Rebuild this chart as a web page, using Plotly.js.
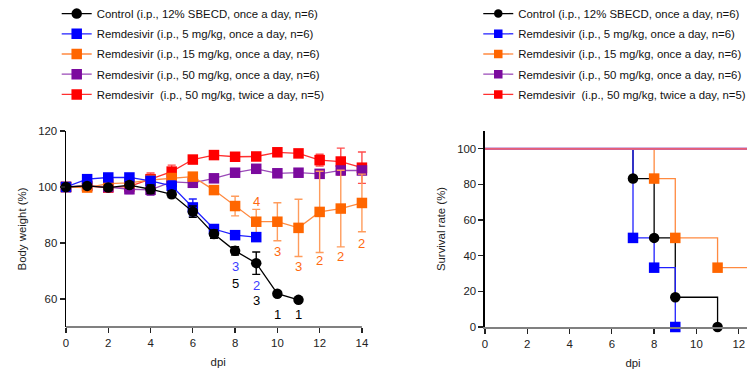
<!DOCTYPE html>
<html><head><meta charset="utf-8">
<script src="https://cdn.plot.ly/plotly-3.0.1.min.js"></script>
<style>html,body{margin:0;padding:0;overflow:hidden;background:#fff}#chart{width:790px;height:371px}</style>
</head><body><div id="chart"></div>
<script>
// ---- data ----
const groupNames = [
  "Control (i.p., 12% SBECD, once a day, n=6)",
  "Remdesivir (i.p., 5 mg/kg, once a day, n=6)",
  "Remdesivir (i.p., 15 mg/kg, once a day, n=6)",
  "Remdesivir (i.p., 50 mg/kg, once a day, n=6)",
  "Remdesivir\u00a0 (i.p., 50 mg/kg, twice a day, n=5)"
];
const days = [0,1,2,3,4,5,6,7,8,9,10,11,12,13,14];
const ctrlWeight  = [100,100.4,99.8,100.7,99.2,97.4,91.2,83.2,77.2,72.8,61.9,59.7];
const ctrlErr     = [0,0.6,0.8,1.2,1.5,1.2,2.0,1.5,1.5,4.0,0,0];
const rdv5Weight  = [100,102.8,103.4,103.4,102.2,100.4,92.7,85.0,82.8,82.1];
const rdv5Err     = [0,0.6,0.6,0.6,0.8,1.8,3.0,1.0,0.8,0.8];
const rdv15Weight = [100,99.8,101.2,101.5,102.5,103.2,103.7,98.9,93.2,87.6,87.6,85.4,91.1,92.3,94.3];
const rdv15Err    = [0,0.6,0.6,0.6,0.6,0.8,0.8,1.2,3.5,4.4,6.8,10.2,14.5,13.7,10.3];
const rdv50Weight = [100,100.5,100.0,99.2,99.0,101.8,101.5,103.1,105.1,106.5,104.9,105.1,104.7,105.9,105.9];
const rdv50Err    = [0,0.5,0.5,1.5,2.0,0.8,0.8,0.8,0.8,0.8,0.8,0.8,1.0,1.0,1.0];
const rdv50bWeight= [100,100.3,99.8,100.2,102.8,105.5,109.8,111.4,110.8,110.9,112.4,112.0,109.6,109.1,106.9];
const rdv50bErr   = [0,0.5,0.5,0.5,2.2,2.3,0.8,0.8,0.8,0.8,0.8,0.8,2.1,4.8,5.6];

// survival (Kaplan-Meier steps)
const survCtrlX = [0,7,8,9,11],     survCtrlY = [100,83.3,50,16.7,0];
const surv5X    = [0,7,8,9],        surv5Y    = [100,50,33.3,0];
const surv15X   = [0,8,9,11,14],    surv15Y   = [100,83.3,50,33.3,33.3];
const surv50X   = [0,14],           surv50Y   = [100,100];
const surv50bX  = [0,14],           surv50bY  = [100,100];

// surviving n labels
const labelDays   = [8,9,8,9,10,11,9,10,11,12,13,14];
const labelVals   = [71.7,64.8,65.6,59.5,54.5,54.5,95,76.9,71.7,73.7,75.2,80];
const labelTexts  = ["3","2","5","3","1","1","4","3","3","2","2","2"];
const labelGroups = [1,1,0,0,0,0,2,2,2,2,2,2];

// ---- styles ----
const markerColors = ["#000000","#0000ff","#ff6600","#7b0a9e","#ff0000"];
const lineColors   = ["#000000","#2020ff","#ff8a40","#9a4ab8","#ff3030"];
const errColors    = ["#000000","#2020ff","#ff9c5c","#9a4ab8","#ff4d4d"];
const survLineColors = ["#000000","#2020ff","#ff8a40","#a66cc4","#ff5a5a"];
const labelColors  = ["#000000","#3c3cff","#ff6a10"];
const symbols      = ["circle","square","square","square","square"];

const weights = [ctrlWeight, rdv5Weight, rdv15Weight, rdv50Weight, rdv50bWeight];
const errs    = [ctrlErr, rdv5Err, rdv15Err, rdv50Err, rdv50bErr];
const survX   = [survCtrlX, surv5X, surv15X, surv50X, surv50bX];
const survY   = [survCtrlY, surv5Y, surv15Y, surv50Y, surv50bY];

const drawOrder = [4,3,2,1,0];
const traces = [];
const font = "Liberation Sans, Arial, sans-serif";

drawOrder.forEach(g => {
  traces.push({
    x: days.slice(0, weights[g].length), y: weights[g],
    type: "scatter", mode: "lines+markers", name: groupNames[g],
    xaxis: "x", yaxis: "y", legend: "legend", legendrank: g+1, legendgroup: "w" + g,
    cliponaxis: false,
    line: {color: lineColors[g], width: 1.3},
    marker: {color: markerColors[g], symbol: symbols[g], size: 10.5, line: {width: 0}},
    error_y: {type: "data", array: errs[g], visible: true, color: errColors[g], thickness: 1.4, width: 4}
  });
});

// survival lines
const survLineOrder = [0,1,2,3,4];
survLineOrder.forEach(g => {
  traces.push({
    x: survX[g], y: survY[g], type: "scatter", mode: "lines",
    line: {shape: "hv", color: survLineColors[g], width: g === 3 ? 2.4 : (g === 4 ? 1.2 : 1.3)},
    xaxis: "x2", yaxis: "y2", showlegend: false, cliponaxis: false
  });
});
[2,1,0].forEach(g => {
  const mx = [], my = [];
  survY[g].forEach((v, i) => { if (i > 0 && v !== survY[g][i-1]) { mx.push(survX[g][i]); my.push(v); } });
  if (mx.length) traces.push({
    x: mx, y: my, type: "scatter", mode: "markers",
    marker: {color: markerColors[g], symbol: symbols[g], size: 10.5, line: {width: 0}},
    xaxis: "x2", yaxis: "y2", showlegend: false, cliponaxis: false
  });
});
// legend entries for the survival panel
[0,1,2,3,4].forEach(g => {
  traces.push({
    x: [null], y: [null], type: "scatter", mode: "lines+markers", name: groupNames[g],
    xaxis: "x2", yaxis: "y2", legend: "legend2", legendrank: g+1, legendgroup: "s" + g,
    line: {color: lineColors[g], width: 1.3},
    marker: {color: markerColors[g], symbol: symbols[g], size: 8.5, line: {width: 0}}
  });
});

const annotations = labelDays.map((d, i) => ({
  x: d, y: labelVals[i], xref: "x", yref: "y", text: labelTexts[i], showarrow: false,
  font: {family: font, size: 13, color: labelColors[labelGroups[i]]}
}));

const axisCommon = {
  showgrid: false, zeroline: false, showline: true, ticks: "outside", ticklen: 5,
  tickwidth: 1.3, tickcolor: "#222", tickfont: {family: font, size: 11.4, color: "#222"}
};
const legendCommon = {
  font: {family: font, size: 11.4, color: "#111"}, bgcolor: "rgba(0,0,0,0)",
  xanchor: "left", yanchor: "top", tracegroupgap: 1.2, traceorder: "grouped"
};

// x axis line of the weight panel drawn only over the 0–14 day span
const shapes = [{
  type: "line", xref: "x", yref: "paper", x0: 0, x1: 14, y0: 0, y1: 0,
  line: {color: "#808080", width: 2}, layer: "below"
}];

const layout = {
  width: 790, height: 371,
  margin: {l: 66, r: 9, t: 131, b: 44, autoexpand: false},
  paper_bgcolor: "#fff", plot_bgcolor: "#fff",
  font: {family: font, color: "#222"},
  xaxis: Object.assign({}, axisCommon, {domain: [0, 0.4257], range: [0, 14.4], tickvals: [0,2,4,6,8,10,12,14],
    showline: false, title: {text: "dpi", font: {family: font, size: 11.4}, standoff: 10}}),
  yaxis: Object.assign({}, axisCommon, {range: [50, 120], tickvals: [60,80,100,120],
    linecolor: "#000", linewidth: 1.5, title: {text: "Body weight (%)", font: {family: font, size: 11.4}, standoff: 9}}),
  xaxis2: Object.assign({}, axisCommon, {domain: [0.586, 1], range: [0, 14], tickvals: [0,2,4,6,8,10,12,14], anchor: "y2",
    linecolor: "#808080", linewidth: 2, title: {text: "dpi", font: {family: font, size: 11.4}, standoff: 10}}),
  yaxis2: Object.assign({}, axisCommon, {range: [0, 110], tickvals: [0,20,40,60,80,100], anchor: "x2",
    linecolor: "#000", linewidth: 1.5, title: {text: "Survival rate (%)", font: {family: font, size: 11.4}, standoff: 9}}),
  legend: Object.assign({}, legendCommon, {x: -0.013, y: 1.673}),
  legend2: Object.assign({}, legendCommon, {x: 0.5766, y: 1.673}),
  annotations: annotations,
  shapes: shapes,
  showlegend: true
};

Plotly.newPlot("chart", traces, layout, {displayModeBar: false, staticPlot: true});
</script></body></html>
